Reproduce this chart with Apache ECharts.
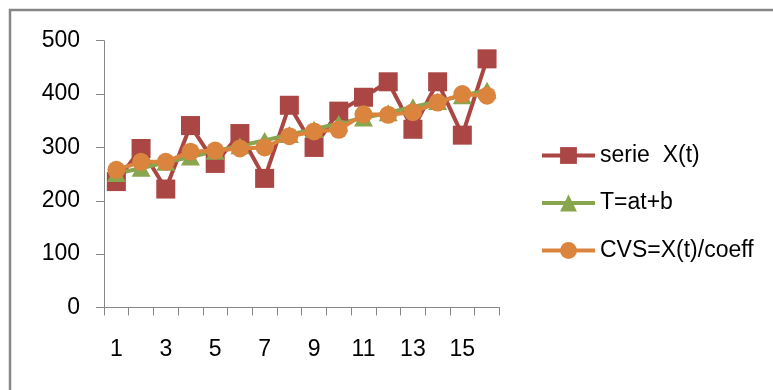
<!DOCTYPE html>
<html>
<head>
<meta charset="utf-8">
<script src="https://cdn.jsdelivr.net/npm/echarts@6/dist/echarts.min.js"></script>
<style>
  html, body { margin: 0; padding: 0; background: #fff; }
  #chart { width: 773px; height: 390px; }
</style>
</head>
<body>
<div id="chart"></div>
<script>
// Periods t = 1..16
const categories = ['1','2','3','4','5','6','7','8','9','10','11','12','13','14','15','16'];
// Observed series X(t)
const serieX = [236, 298, 222, 341, 270, 326, 242, 379, 300, 368, 394, 423, 334, 423, 323, 466];
// Linear trend T = at + b
const trend = [251, 261, 272, 282, 293, 303, 313, 324, 334, 345, 355, 365, 376, 386, 397, 407];
// Seasonally adjusted series CVS = X(t)/coeff
const cvs = [258, 273, 273, 292, 294, 298, 300, 321, 330, 333, 362, 361, 366, 384, 400, 397];
const yTicks = { min: 0, max: 500, step: 100 };

const FONT = 'Liberation Sans';
const AXIS = '#868686';

const chart = echarts.init(document.getElementById('chart'), null, { renderer: 'canvas' });

function lineSeries(name, data, color, symbol, size) {
  return {
    name: name,
    type: 'line',
    data: data,
    symbol: symbol,
    symbolSize: size,
    showAllSymbol: true,
    lineStyle: { color: color, width: 4 },
    itemStyle: { color: color },
    emphasis: { disabled: true },
    animation: false
  };
}

chart.setOption({
  backgroundColor: '#ffffff',
  animation: false,
  textStyle: { fontFamily: FONT },
  graphic: [
    {
      type: 'rect',
      shape: { x: 10, y: 10, width: 800, height: 420 },
      style: { fill: 'none', stroke: AXIS, lineWidth: 2.5 },
      silent: true,
      z: -1
    }
  ],
  grid: { left: 104, top: 40.7, width: 395.4, height: 266.8, containLabel: false },
  legend: {
    orient: 'vertical',
    left: 535,
    top: 139,
    itemWidth: 53,
    itemHeight: 21,
    itemGap: 24.5,
    lineStyle: { width: 4 },
    data: ['serie  X(t)', 'T=at+b', 'CVS=X(t)/coeff'],
    textStyle: { fontFamily: FONT, fontSize: 23, color: '#000' }
  },
  xAxis: {
    type: 'category',
    data: categories,
    boundaryGap: true,
    axisLine: { show: true, lineStyle: { color: AXIS, width: 1 } },
    axisTick: { show: true, interval: 0, alignWithLabel: false, length: 8, lineStyle: { color: AXIS } },
    axisLabel: { interval: 1, margin: 31, fontFamily: FONT, fontSize: 23, color: '#000' },
    splitLine: { show: false }
  },
  yAxis: {
    type: 'value',
    min: yTicks.min,
    max: yTicks.max,
    interval: yTicks.step,
    axisLine: { show: true, lineStyle: { color: AXIS, width: 1 } },
    axisTick: { show: true, length: 8, lineStyle: { color: AXIS } },
    axisLabel: { margin: 24, fontFamily: FONT, fontSize: 23, color: '#000' },
    splitLine: { show: false }
  },
  series: [
    lineSeries('serie  X(t)', serieX, '#AA4643', 'rect', 19),
    lineSeries('T=at+b', trend, '#89A54E', 'triangle', [19, 17]),
    lineSeries('CVS=X(t)/coeff', cvs, '#DB843D', 'circle', 18)
  ]
});
</script>
</body>
</html>
